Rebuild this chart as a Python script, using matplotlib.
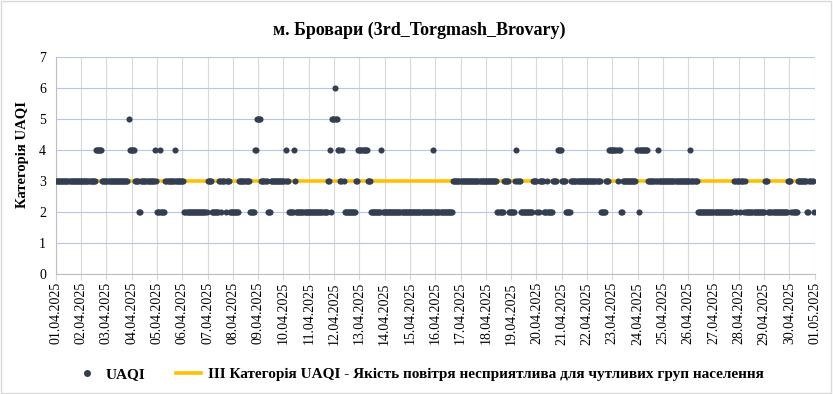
import numpy as np
import pandas as pd
import matplotlib
matplotlib.use("Agg")
import matplotlib.pyplot as plt
import matplotlib.dates as mdates
from matplotlib.lines import Line2D
from matplotlib.patches import Rectangle

# hourly UAQI as (value, number of hours) runs, from 01.04.2025 00:00
uaqi_runs = [
    (3, 38), (4, 6), (3, 25), (5, 1), (4, 5), (3, 4), (2, 2), (3, 13), (4, 1), (3, 1),
    (2, 3), (4, 1), (2, 4), (3, 9), (4, 1), (3, 8), (2, 22), (3, 4), (2, 7),
    (3, 2), (2, 1), (3, 3), (2, 1), (3, 3), (2, 9), (3, 1),
    (3, 9), (2, 5), (4, 2), (5, 4), (3, 6), (2, 3), (3, 14), (4, 1), (3, 2), (2, 5),
    (4, 1), (3, 1), (2, 30), (3, 2), (4, 1), (2, 1), (5, 3), (6, 1), (5, 2), (4, 2),
    (3, 2), (4, 1), (3, 1), (2, 11), (3, 2), (4, 9), (3, 3), (2, 10), (4, 1),
    (2, 48), (4, 1), (2, 18), (3, 42), (2, 6), (3, 5), (2, 6), (3, 1), (4, 1), (3, 3),
    (2, 12), (3, 4), (2, 2), (3, 4), (2, 3), (3, 1), (2, 5), (3, 4), (4, 4), (3, 4),
    (2, 5), (3, 28), (2, 5), (3, 3),
    (4, 8), (3, 1), (4, 2), (2, 2), (3, 13), (4, 2), (2, 1), (4, 8), (3, 9), (4, 1),
    (3, 30), (4, 1), (3, 6), (2, 34), (3, 2), (2, 1), (3, 3), (2, 1), (3, 3), (2, 1),
    (3, 1), (2, 18), (3, 3), (2, 19), (3, 3), (2, 6), (3, 9), (2, 2), (3, 4), (2, 1),
]
category_level = 3
start_date = "2025-04-01"
end_date = "2025-05-01"

title = "м. Бровари (3rd_Torgmash_Brovary)"
y_label = "Категорія UAQI"
series_label = "UAQI"
line_label = "III Категорія UAQI - Якість повітря несприятлива для чутливих груп населення"

vals = np.repeat([v for v, n in uaqi_runs], [n for v, n in uaqi_runs])
times = pd.date_range(start_date, periods=len(vals), freq="h")

plt.rcParams["font.family"] = ["Liberation Serif", "DejaVu Serif"]

fig = plt.figure(figsize=(8.33, 3.94), dpi=100)
ax = fig.add_axes([0.067, 0.305, 0.911, 0.55])

dot_color = "#333f50"
line_color = "#ffc000"

ax.plot([pd.Timestamp(start_date), pd.Timestamp(end_date)], [category_level] * 2,
        color=line_color, linewidth=2.6, zorder=2)
ax.plot(times, vals, "o", color=dot_color, markersize=4.4, markeredgewidth=0, zorder=3)

ax.set_xlim(pd.Timestamp(start_date), pd.Timestamp(end_date))
ax.set_ylim(0, 7)
ax.set_yticks(range(0, 8))
ax.xaxis.set_major_locator(mdates.DayLocator())
ax.xaxis.set_major_formatter(mdates.DateFormatter("%d.%m.%Y"))
plt.setp(ax.get_xticklabels(), rotation=90)
ax.tick_params(axis="x", labelsize=10, length=4, color="#d9d9d9", pad=2)
ax.tick_params(axis="y", labelsize=10, length=0, pad=7)

ax.grid(axis="x", color="#d9d9d9", linewidth=0.8)
ax.grid(axis="y", color="#b4c7e7", linewidth=0.8)
ax.set_axisbelow(True)
for side in ["top", "right"]:
    ax.spines[side].set_visible(False)
ax.spines["left"].set_color("#bfbfbf")
ax.spines["bottom"].set_color("#bfbfbf")

ax.set_ylabel(y_label, fontsize=10.5, fontweight="bold")
ax.yaxis.set_label_coords(-0.035, 0.55)
fig.text(0.503, 0.924, title, ha="center", va="center", fontsize=13, fontweight="bold")

handles = [
    Line2D([], [], marker="o", linestyle="none", color=dot_color, markersize=4),
    Line2D([], [], color=line_color, linewidth=2.6),
]
fig.legend(handles, [series_label, line_label], loc="center", bbox_to_anchor=(0.503, 0.05),
           ncol=2, frameon=False, prop={"size": 11, "weight": "bold"},
           handlelength=1.65, handletextpad=0.4, columnspacing=2.0)

fig.add_artist(Rectangle((0.001, 0.002), 0.997, 0.995, transform=fig.transFigure,
                         fill=False, edgecolor="#d9d9d9", linewidth=1))

fig.savefig("out.png", dpi=100)
